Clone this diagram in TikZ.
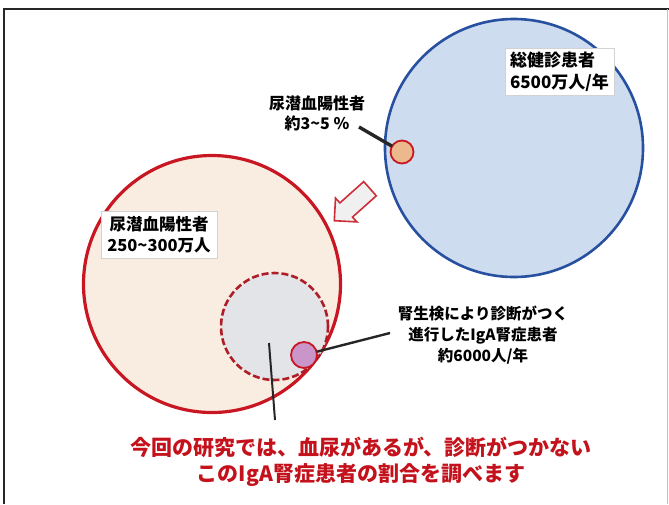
\documentclass[tikz,border=0pt]{standalone}
\usepackage{fontspec}
\setmainfont{Noto Sans CJK JP}
\definecolor{bluefill}{RGB}{206,220,239}
\definecolor{blueline}{RGB}{40,80,160}
\definecolor{beigefill}{RGB}{249,236,224}
\definecolor{redline}{RGB}{200,22,34}
\definecolor{darkred}{RGB}{175,30,40}
\definecolor{grayfill}{RGB}{226,228,232}
\definecolor{orangefill}{RGB}{236,185,140}
\definecolor{pinkfill}{RGB}{202,150,202}
\definecolor{redtext}{RGB}{196,18,28}
\tikzset{
  disc/.style={circle, inner sep=0pt, outer sep=0pt},
  labelbox/.style={fill=white, draw=gray!35, line width=0.8pt, inner xsep=5pt, inner ysep=3pt},
  lbl/.style={align=center, inner sep=0pt, font=\bfseries\fontsize{16}{20}\selectfont},
  pointer/.style={line width=3.4pt, black!85},
}
\begin{document}
\begin{tikzpicture}[x=1pt,y=-1pt]
\useasboundingbox (0,0) rectangle (669,504);
% frame
\draw[line width=2pt, black!85] (3.5,504) -- (3.5,9) -- (669,9);
\draw[line width=1pt, gray!50] (667.5,9) -- (667.5,504);
% blue circle
\node[disc, minimum size=258pt, fill=bluefill, draw=blueline, line width=2.6pt] (blue) at (514,148) {};
\node[disc, minimum size=23pt, fill=orangefill, draw=redline, line width=1.8pt] (orange) at (402,152) {};
\node[labelbox, align=left, font=\bfseries\fontsize{17}{22}\selectfont, minimum width=105pt, minimum height=47pt] (lblA) at (559.5,71.5) {総健診患者\\6500万人/年};
% pointer 1
\node[lbl] (lblB) at (317,113) {尿潜血陽性者\\約3\textasciitilde5 \%};
\coordinate (c1) at (359,127);
\draw[pointer] (c1) -- (orange);
% hollow arrow
\draw[line width=1.6pt, redline!90, fill=gray!12, line join=miter]
  (376.3,195.8) -- (352.5,217.1) -- (356.9,221.9) -- (334.3,220.7)
  -- (335.5,198.1) -- (339.9,202.9) -- (363.7,181.6) -- cycle;
% beige circle
\node[disc, minimum size=257pt, fill=beigefill, draw=redline, line width=3.2pt] (beige) at (212,284) {};
\node[labelbox, align=center, font=\bfseries\fontsize{16.5}{21}\selectfont, minimum width=116pt, minimum height=47pt] (lblC) at (159,234.5) {尿潜血陽性者\\250\textasciitilde300万人};
\node[disc, minimum size=107pt, fill=grayfill, draw=darkred, line width=2.6pt, dash pattern=on 7pt off 3pt] (gray) at (274.5,326.5) {};
\node[disc, minimum size=26pt, fill=pinkfill, draw=redline, line width=1.8pt] (pink) at (304,355) {};
% pointer 3
\node[lbl, font=\bfseries\fontsize{15.5}{21}\selectfont] (lblD) at (483,335) {腎生検により診断がつく\\進行したIgA腎症患者\\約6000人/年};
\coordinate (c3) at (390,333);
\draw[pointer, line width=2.4pt] (c3) -- (pink);
% vertical line
\coordinate (c4a) at (269,343);
\coordinate (c4b) at (275,420);
\draw[line width=2pt, black!85] (c4a) -- (c4b);
% red text
\node[align=center, inner sep=0pt, text=redtext, font=\bfseries\fontsize{21}{26}\selectfont] (msg) at (361,462) {今回の研究では、血尿があるが、診断がつかない\\このIgA腎症患者の割合を調べます};
\end{tikzpicture}
\end{document}
